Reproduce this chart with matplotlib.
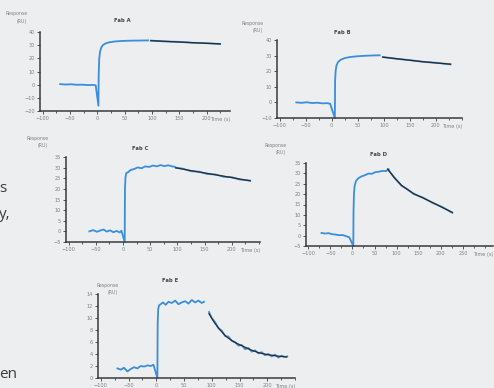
import matplotlib
matplotlib.use("Agg")
import matplotlib.pyplot as plt
from matplotlib.ticker import MultipleLocator

# ---------------- data ----------------
titles = ["Fab A", "Fab B", "Fab C", "Fab D", "Fab E"]

A_base_t = [-68, -58, -48, -38, -28, -18, -8, -3]
A_base_v = [0.4, 0.1, 0.3, -0.1, 0.0, -0.3, -0.2, -0.5]
A_assoc_t = [2, 2.5, 3.5, 5, 7, 10, 15, 22, 32, 45, 60, 75, 93]
A_assoc_v = [-16, 8, 20, 25, 28, 30, 31.3, 32.2, 32.8, 33.2, 33.4, 33.5, 33.6]
A_diss_t = [98, 125, 150, 175, 200, 225]
A_diss_v = [33.5, 32.8, 32.5, 31.8, 31.5, 30.9]
A_fit_t = [98, 125, 150, 175, 200, 225]
A_fit_v = [33.4, 32.9, 32.4, 31.9, 31.4, 31.0]

B_base_t = [-68, -58, -48, -38, -28, -18, -8, -3]
B_base_v = [0.0, -0.3, 0.1, -0.4, -0.2, -0.6, -0.5, -0.9]
B_assoc_t = [6, 6.5, 7.5, 9, 12, 17, 25, 35, 50, 65, 80, 92]
B_assoc_v = [-10, 14, 20, 23.5, 25.8, 27.3, 28.4, 29.1, 29.6, 29.9, 30.1, 30.2]
B_diss_t = [98, 125, 150, 175, 200, 228]
B_diss_v = [29.1, 27.9, 27.1, 26.0, 25.4, 24.4]
B_fit_t = [98, 125, 150, 175, 200, 228]
B_fit_v = [29.0, 28.0, 27.0, 26.1, 25.3, 24.5]

C_base_t = [-62, -55, -48, -42, -36, -30, -24, -18, -12, -6, -3]
C_base_v = [0.0, 0.6, -0.2, 0.4, 0.9, -0.1, 0.5, -0.4, 0.2, -0.5, 0.3]
C_assoc_t = [3, 3.5, 4.5, 6, 9, 14, 20, 27, 34, 41, 48, 55, 62, 69, 76, 83, 90, 95]
C_assoc_v = [-5, 20, 25.5, 27.5, 27.8, 28.9, 29.3, 30.1, 29.7, 30.6, 30.3, 31.0,
             30.6, 31.2, 30.7, 31.1, 30.6, 30.4]
C_diss_t = [97, 110, 125, 140, 155, 170, 185, 200, 215, 234]
C_diss_v = [30.0, 29.5, 28.3, 28.1, 27.0, 26.8, 25.7, 25.5, 24.4, 23.9]
C_fit_t = [97, 110, 125, 140, 155, 170, 185, 200, 215, 234]
C_fit_v = [29.9, 29.3, 28.6, 27.9, 27.3, 26.6, 26.0, 25.3, 24.6, 23.8]

D_base_t = [-70, -62, -54, -46, -38, -30, -22, -14, -7]
D_base_v = [1.3, 1.0, 1.2, 0.7, 0.5, 0.2, 0.3, -0.3, -0.8]
D_assoc_t = [2, 2.5, 3.5, 5, 8, 13, 20, 28, 36, 44, 52, 60, 68, 76, 82]
D_assoc_v = [-5, 12, 20, 24, 26.3, 27.6, 28.5, 29.1, 29.9, 29.8, 30.6, 30.8, 31.2, 31.1, 32.0]
D_diss_t = [80, 95, 111, 125, 139, 160, 180, 203, 226]
D_diss_v = [32.0, 28.0, 24.0, 22.3, 20.0, 18.3, 15.9, 13.8, 11.0]
D_fit_t = [80, 95, 111, 125, 139, 160, 180, 203, 226]
D_fit_v = [32.0, 27.8, 24.3, 22.1, 20.2, 18.1, 16.1, 13.6, 11.2]

E_base_t = [-70, -64, -58, -52, -46, -40, -34, -28, -22, -16, -10, -5]
E_base_v = [1.6, 1.4, 1.7, 1.1, 1.5, 1.8, 1.6, 2.0, 1.9, 2.1, 2.0, 2.2]
E_assoc_t = [2, 2.5, 3.5, 5, 8, 12, 17, 22, 28, 34, 40, 46, 52, 58, 64, 70, 76, 82, 86]
E_assoc_v = [0, 9, 11.5, 12.1, 12.3, 12.6, 12.2, 12.7, 12.5, 12.9, 12.3, 12.6, 12.8,
             12.4, 13.0, 12.6, 12.9, 12.5, 12.7]
E_diss_t = [95, 100, 106, 112, 118, 124, 130, 136, 142, 148, 154, 160, 166, 172,
            178, 184, 190, 196, 202, 208, 214, 220, 226, 232, 236]
E_diss_v = [11.0, 10.0, 9.3, 8.3, 7.9, 7.0, 6.9, 6.2, 6.0, 5.4, 5.5, 4.8, 5.0, 4.4,
            4.6, 4.1, 4.3, 3.8, 4.0, 3.6, 3.9, 3.4, 3.7, 3.5, 3.6]
E_fit_t = [95, 105, 115, 126, 140, 156, 170, 185, 200, 215, 235]
E_fit_v = [10.7, 9.2, 8.0, 6.9, 6.0, 5.3, 4.7, 4.2, 3.9, 3.7, 3.5]

A_yticks = [-20, -10, 0, 10, 20, 30, 40]
B_yticks = [-10, 0, 10, 20, 30, 40]
C_yticks = [-5, 0, 5, 10, 15, 20, 25, 30, 35]
D_yticks = [-5, 0, 5, 10, 15, 20, 25, 30, 35]
E_yticks = [0, 2, 4, 6, 8, 10, 12, 14]
xticks_short = [-100, -50, 0, 50, 100, 150, 200]
xticks_long = [-100, -50, 0, 50, 100, 150, 200, 250]

# ---------------- layout ----------------
W, H = 494, 388
BG = "#eceef0"
BLUE = "#3a8edb"
FIT = "#2b2b2b"
AX = "#3a3a3a"
LBL = "#808080"

fig = plt.figure(figsize=(W / 100, H / 100), dpi=100)
fig.patch.set_facecolor(BG)


def px_axes(l, t, r, b):
    return fig.add_axes([l / W, 1 - b / H, (r - l) / W, (b - t) / H])


panels = [
    dict(rect=(40, 32, 230, 111), xlim=(-105, 243), ylim=(-20, 40), yt=A_yticks, xt=xticks_short,
         base=(A_base_t, A_base_v), assoc=(A_assoc_t, A_assoc_v), diss=(A_diss_t, A_diss_v),
         fit=(A_fit_t, A_fit_v), title_xy=(122, 20), resp_xy=(17, 14)),
    dict(rect=(277, 40, 462, 118), xlim=(-105, 250), ylim=(-10, 40), yt=B_yticks, xt=xticks_short,
         base=(B_base_t, B_base_v), assoc=(B_assoc_t, B_assoc_v), diss=(B_diss_t, B_diss_v),
         fit=(B_fit_t, B_fit_v), title_xy=(342, 32), resp_xy=(253, 23)),
    dict(rect=(66, 157, 260, 242), xlim=(-105, 252), ylim=(-5, 35), yt=C_yticks, xt=xticks_short,
         base=(C_base_t, C_base_v), assoc=(C_assoc_t, C_assoc_v), diss=(C_diss_t, C_diss_v),
         fit=(C_fit_t, C_fit_v), title_xy=(140, 148), resp_xy=(38, 138)),
    dict(rect=(306, 163, 493, 246), xlim=(-105, 318), ylim=(-5, 35), yt=D_yticks, xt=xticks_long,
         base=(D_base_t, D_base_v), assoc=(D_assoc_t, D_assoc_v), diss=(D_diss_t, D_diss_v),
         fit=(D_fit_t, D_fit_v), title_xy=(378, 155), resp_xy=(276, 145)),
    dict(rect=(98, 294, 295, 378), xlim=(-105, 250), ylim=(0, 14), yt=E_yticks, xt=xticks_short,
         base=(E_base_t, E_base_v), assoc=(E_assoc_t, E_assoc_v), diss=(E_diss_t, E_diss_v),
         fit=(E_fit_t, E_fit_v), title_xy=(170, 280), resp_xy=(108, 285)),
]

for p, title in zip(panels, titles):
    ax = px_axes(*p["rect"])
    ax.set_facecolor("none")
    bt, bv = p["base"]
    at, av = p["assoc"]
    dt, dv = p["diss"]
    ft, fv = p["fit"]
    ax.plot(list(bt) + list(at), list(bv) + list(av), color=BLUE, lw=1.3,
            solid_joinstyle="round", clip_on=False)
    ax.plot(dt, dv, color=BLUE, lw=1.3, clip_on=False)
    ax.plot(ft, fv, color=FIT, lw=0.9, clip_on=False)
    ax.set_xlim(*p["xlim"])
    ax.set_ylim(*p["ylim"])
    ax.set_xticks(p["xt"])
    ax.set_yticks(p["yt"])
    ax.xaxis.set_minor_locator(MultipleLocator(25))
    for s in ("top", "right"):
        ax.spines[s].set_visible(False)
    for s in ("left", "bottom"):
        ax.spines[s].set_color(AX)
        ax.spines[s].set_linewidth(1.1)
    ax.tick_params(which="both", direction="out", color=AX, width=0.6,
                   labelsize=3.6, labelcolor=LBL, pad=1.5)
    ax.tick_params(which="major", length=2.2)
    ax.tick_params(which="minor", length=1.6)
    ax.annotate("Time (s)", xy=(1.0, 0), xycoords="axes fraction",
                xytext=(0, -4.2), textcoords="offset points", ha="right", va="top",
                fontsize=3.6, color=LBL, annotation_clip=False)
    tx, ty = p["title_xy"]
    fig.text(tx / W, 1 - ty / H, title, ha="center", va="center",
             fontsize=3.8, fontweight="bold", color="#444444")
    rx, ry = p["resp_xy"]
    fig.text(rx / W, 1 - ry / H, "Response", ha="center", va="center",
             fontsize=3.3, color=LBL)
    fig.text((rx + 5) / W, 1 - (ry + 7.5) / H, "(RU)", ha="center", va="center",
             fontsize=3.3, color=LBL)

# fragments of the page's body text at the left edge
for s, x, y in [("s", -1, 188), ("y,", -1, 214), ("en", -1, 374)]:
    fig.text(x / W, 1 - y / H, s, ha="left", va="center", fontsize=11,
             family=["Open Sans", "DejaVu Sans"], color="#3c3c3c")

fig.savefig("out.png", dpi=100, facecolor=BG)
